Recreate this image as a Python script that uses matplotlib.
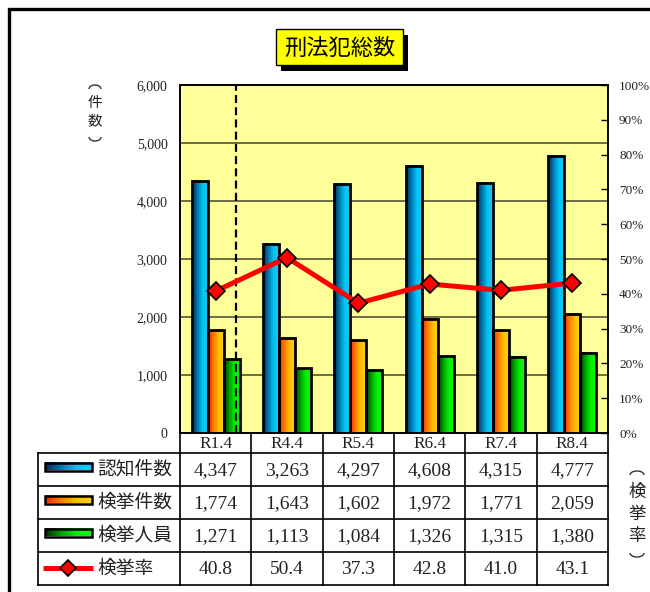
import matplotlib
matplotlib.use("Agg")
import matplotlib.pyplot as plt
import numpy as np
from matplotlib.colors import LinearSegmentedColormap
from matplotlib.patches import Rectangle, Arc

# ---------------- data ----------------
categories = ["R1.4", "R4.4", "R5.4", "R6.4", "R7.4", "R8.4"]
ninchi = [4347, 3263, 4297, 4608, 4315, 4777]      # 認知件数
kenkyo = [1774, 1643, 1602, 1972, 1771, 2059]      # 検挙件数
jinin = [1271, 1113, 1084, 1326, 1315, 1380]       # 検挙人員
rate = [40.8, 50.4, 37.3, 42.8, 41.0, 43.1]        # 検挙率
rate_labels = ["40.8", "50.4", "37.3", "42.8", "41.0", "43.1"]
series_names = ["認知件数", "検挙件数", "検挙人員", "検挙率"]
title = "刑法犯総数"
left_ticks = [0, 1000, 2000, 3000, 4000, 5000, 6000]
right_ticks = list(range(0, 101, 10))

JP = "Noto Sans CJK JP"
NUM = "Liberation Serif"

cm_blue = LinearSegmentedColormap.from_list("b", ["#002a52", "#0078b0", "#00c4f2", "#18c8f4"])
cm_orange = LinearSegmentedColormap.from_list("o", ["#ff2400", "#ff7a00", "#ffbe00", "#ffcc10"])
cm_green = LinearSegmentedColormap.from_list("g", ["#003000", "#00a000", "#00ee00", "#10f810"])
cmaps = [cm_blue, cm_orange, cm_green]
grad = np.linspace(0, 1, 64).reshape(1, -1)

W, H = 650, 592
fig = plt.figure(figsize=(W / 100, H / 100), dpi=100)

# overlay in pixel coordinates for frame, title and table
ov = fig.add_axes([0, 0, 1, 1])
ov.set_xlim(0, W)
ov.set_ylim(H, 0)
ov.axis("off")

# outer frame (top and left)
ov.plot([9, 9, W], [H, 8.5, 8.5], color="black", lw=2.4, solid_joinstyle="miter")

# main axes
AX_L, AX_R, AX_T, AX_B = 180, 608, 85, 433
ax = fig.add_axes([AX_L / W, 1 - AX_B / H, (AX_R - AX_L) / W, (AX_B - AX_T) / H])
ax.set_facecolor("#ffff99")
ax.set_axisbelow(True)
n = len(categories)
x = np.arange(n)
bw = 0.224
offs = [-bw, 0, bw]
for k, vals in enumerate([ninchi, kenkyo, jinin]):
    for i, v in enumerate(vals):
        xc = x[i] + offs[k]
        ax.imshow(grad, cmap=cmaps[k], extent=(xc - bw / 2, xc + bw / 2, 0, v),
                  aspect="auto", zorder=2, interpolation="bilinear")
    ax.bar(x + offs[k], vals, width=bw, fill=False, edgecolor="black", linewidth=2.0, zorder=3)

ax.set_xlim(-0.5, n - 0.5)
ax.set_ylim(0, 6000)
ax.set_yticks(left_ticks)
ax.set_yticklabels([f"{t:,}" for t in left_ticks], fontname=NUM, fontsize=10, color="#222222")
ax.tick_params(axis="y", length=0, pad=9)
ax.set_xticks([])
ax.yaxis.grid(True, color="#55553a", lw=1.2)
for s in ax.spines.values():
    s.set_color("black")
    s.set_linewidth(1.2)

# dashed separator
ax.axvline(0.286, color="black", lw=1.6, ls=(0, (3.6, 1.9)), zorder=4)

ax2 = ax.twinx()
ax2.set_ylim(0, 100)
ax2.set_yticks(right_ticks)
ax2.set_yticklabels([f"{t}%" for t in right_ticks], fontname=NUM, fontsize=9.5, color="#222222")
ax2.tick_params(axis="y", direction="in", length=5, width=1, pad=8)
for s in ax2.spines.values():
    s.set_linewidth(1.2)
ax2.plot(x, rate, color="#ff0000", lw=3.6, marker="D", ms=9.5, mfc="#ff0000",
         mec="black", mew=1.2, zorder=5, solid_capstyle="butt")

# ---------------- title box ----------------
tx0, ty0, tx1, ty1 = 276, 29, 403, 65
ov.add_patch(Rectangle((tx0 + 5, ty0 + 6), tx1 - tx0, ty1 - ty0, facecolor="black", edgecolor="none"))
ov.add_patch(Rectangle((tx0, ty0), tx1 - tx0, ty1 - ty0, facecolor="#ffff00", edgecolor="black", lw=1))
ov.text((tx0 + tx1) / 2, (ty0 + ty1) / 2 + 1, title, family=JP, fontsize=16,
        ha="center", va="center", color="black")

# ---------------- axis unit labels (vertical) ----------------
def vlabel(xc, y_open, ys, y_close, chars, fs, aw):
    ov.add_patch(Arc((xc, y_open + 3), aw, 8, theta1=180, theta2=360, color="#333333", lw=1.0))
    for ch, yy in zip(chars, ys):
        ov.text(xc, yy, ch, family=JP, fontsize=fs, ha="center", va="center", color="#222222")
    ov.add_patch(Arc((xc, y_close - 3), aw, 8, theta1=0, theta2=180, color="#333333", lw=1.0))

vlabel(95, 86, [103, 121], 140, ["件", "数"], 10.5, 12)
vlabel(637, 472, [492, 514, 536], 556, ["検", "挙", "率"], 12.5, 14)

# ---------------- data table ----------------
colw = (AX_R - AX_L) / n
row_y = [433, 453, 486, 519, 552, 585]
LBL_L = 38
lwt = 1.2
for i in range(n + 1):
    xx = AX_L + i * colw
    ov.plot([xx, xx], [row_y[0], row_y[-1]], color="black", lw=lwt)
ov.plot([LBL_L, LBL_L], [row_y[1], row_y[-1]], color="black", lw=lwt)
for yy in row_y[1:]:
    ov.plot([LBL_L, AX_R], [yy, yy], color="black", lw=lwt)

for i, c in enumerate(categories):
    ov.text(AX_L + (i + 0.5) * colw, (row_y[0] + row_y[1]) / 2 + 1, c, fontname=NUM,
            fontsize=12.4, ha="center", va="center", color="#222222")

rows_vals = [[f"{v:,}" for v in ninchi], [f"{v:,}" for v in kenkyo],
             [f"{v:,}" for v in jinin], rate_labels]
for r, vals in enumerate(rows_vals):
    yc = (row_y[r + 1] + row_y[r + 2]) / 2
    for i, s in enumerate(vals):
        ov.text(AX_L + (i + 0.5) * colw, yc + 1, s, fontname=NUM, fontsize=14,
                ha="center", va="center", color="#222222")
    ov.text(97, yc, series_names[r], family=JP, fontsize=13.5, ha="left", va="center",
            color="#222222")
    if r < 3:
        sy = yc - 3
        ov.imshow(grad, cmap=cmaps[r], extent=(45, 92, sy + 4, sy - 4), aspect="auto",
                  interpolation="bilinear", zorder=2)
        ov.add_patch(Rectangle((45, sy - 4), 47, 8, fill=False, edgecolor="black", lw=1.8, zorder=3))
    else:
        ov.plot([43, 93], [yc - 1, yc - 1], color="#ff0000", lw=3.6, zorder=2, solid_capstyle="butt")
        ov.plot([68], [yc - 1], marker="D", ms=8, mfc="#ff0000", mec="black", mew=1.2, zorder=3)

ov.set_xlim(0, W)
ov.set_ylim(H, 0)

fig.savefig("out.png", dpi=100)
